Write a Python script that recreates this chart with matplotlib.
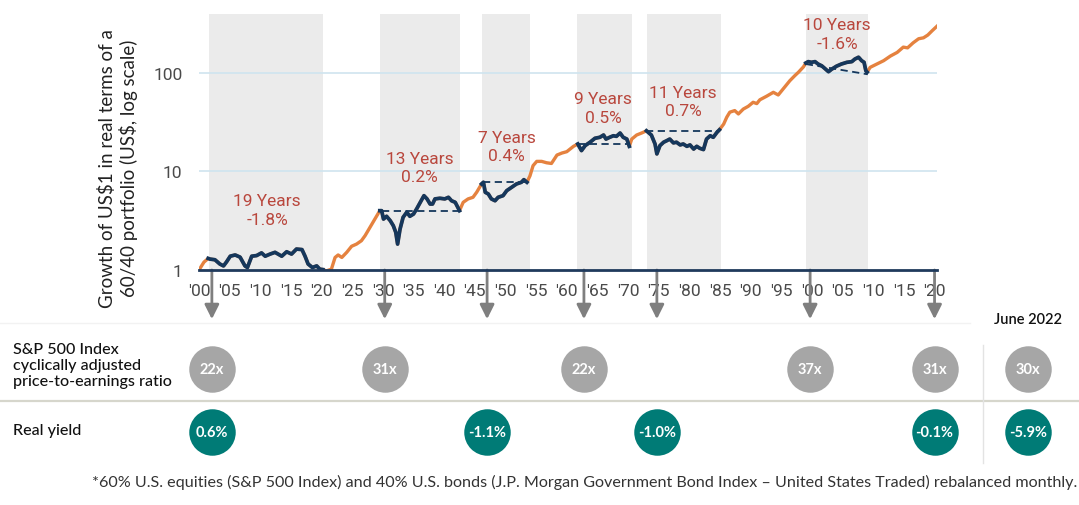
import matplotlib
matplotlib.use("Agg")
import matplotlib.pyplot as plt
from matplotlib.transforms import blended_transform_factory

# Growth of US$1 (real) in a 60/40 portfolio
years = [1900.0, 1900.8, 1901.5, 1901.8, 1902.6, 1903.4, 1904.0, 1904.5, 1905.1, 1905.9,
         1906.7, 1907.5, 1907.9, 1908.6, 1909.4, 1910.2, 1910.8, 1911.6, 1912.4, 1912.9,
         1913.5, 1914.3, 1915.1, 1915.9, 1916.8, 1917.3, 1917.8, 1918.5, 1919.2, 1919.7,
         1920.2, 1920.8, 1921.6, 1922.2, 1922.7, 1923.3, 1924.1, 1924.9, 1925.7, 1926.5,
         1927.1, 1927.9, 1928.7, 1929.5, 1929.8, 1930.1, 1930.6, 1931.2, 1931.7, 1932.1,
         1932.4, 1932.8, 1933.3, 1933.9, 1934.4, 1935.0, 1935.5, 1936.1, 1936.7, 1937.2,
         1937.7, 1938.1, 1938.5, 1939.3, 1940.1, 1940.7, 1941.2, 1941.8, 1942.5, 1943.1,
         1943.9, 1944.7, 1945.3, 1946.1, 1946.4, 1946.7, 1947.2, 1947.7, 1948.3, 1948.8,
         1949.6, 1950.2, 1951.0, 1951.8, 1952.6, 1953.0, 1953.5, 1954.0, 1954.5, 1955.1,
         1955.9, 1956.7, 1957.5, 1958.4, 1959.2, 1960.0, 1961.1, 1961.8, 1962.4, 1963.0,
         1963.8, 1964.6, 1965.4, 1966.0, 1966.4, 1967.0, 1967.6, 1968.1, 1968.7, 1969.2,
         1969.8, 1970.2, 1970.6, 1971.4, 1972.2, 1973.0, 1973.8, 1974.4, 1974.7, 1975.2,
         1975.8, 1976.3, 1976.8, 1977.4, 1977.9, 1978.5, 1979.0, 1979.6, 1980.1, 1980.7,
         1981.2, 1981.7, 1982.3, 1982.8, 1983.4, 1983.9, 1984.5, 1984.9, 1985.6, 1986.1,
         1986.6, 1987.4, 1988.0, 1988.8, 1989.6, 1990.4, 1991.0, 1991.5, 1992.6, 1993.7,
         1994.5, 1995.3, 1996.4, 1997.2, 1997.8, 1998.6, 1999.0, 1999.4, 1999.9, 2000.5,
         2001.0, 2001.6, 2002.1, 2002.7, 2003.2, 2004.0, 2004.8, 2005.7, 2006.5, 2007.0,
         2007.6, 2008.1, 2008.5, 2008.8, 2009.0, 2009.5, 2010.6, 2011.7, 2012.8, 2013.9,
         2014.9, 2015.6, 2016.5, 2017.4, 2018.2, 2018.9, 2019.6, 2020.4]
values = [1.00, 1.20, 1.31, 1.29, 1.27, 1.15, 1.10, 1.21, 1.38, 1.42,
          1.35, 1.10, 1.06, 1.38, 1.40, 1.49, 1.38, 1.45, 1.51, 1.45,
          1.38, 1.53, 1.45, 1.63, 1.61, 1.38, 1.15, 1.06, 1.10, 1.02,
          1.01, 0.98, 1.02, 1.34, 1.42, 1.34, 1.51, 1.74, 1.83, 1.98,
          2.23, 2.71, 3.28, 3.99, 3.99, 3.28, 3.50, 3.16, 2.81, 2.41,
          1.83, 2.60, 3.42, 3.85, 3.50, 3.69, 4.15, 4.85, 5.66, 5.25,
          4.66, 4.66, 5.25, 5.33, 5.25, 5.45, 5.03, 4.85, 3.99, 4.85,
          5.25, 5.45, 6.13, 7.44, 7.74, 6.13, 5.89, 5.25, 5.03, 5.45,
          5.66, 6.36, 6.88, 7.44, 7.74, 8.22, 7.74, 9.00, 11.4, 12.6,
          12.6, 12.2, 12.0, 14.6, 15.3, 15.8, 17.9, 18.9, 16.2, 18.2,
          19.7, 21.6, 22.1, 23.3, 21.2, 22.1, 22.9, 22.6, 24.4, 22.1,
          21.2, 17.9, 21.2, 23.3, 24.4, 25.7, 23.3, 18.9, 15.0, 18.2,
          19.7, 20.4, 21.2, 19.4, 19.7, 18.5, 18.9, 17.9, 18.5, 16.8,
          17.9, 17.1, 16.6, 21.2, 22.9, 22.1, 24.8, 26.3, 30.1, 35.3,
          39.7, 41.2, 38.1, 42.7, 45.5, 50.0, 48.5, 53.0, 57.6, 63.1,
          59.3, 68.3, 82.8, 93.0, 100.8, 114, 125, 129, 127, 129,
          122, 117, 110, 102, 108, 116, 122, 127, 129, 137,
          143, 132, 127, 104, 101, 113, 122, 132, 147, 160,
          181, 178, 200, 220, 225, 240, 265, 295]

# shaded periods and the parts of the line drawn in navy
shade_start = [1901.7, 1929.6, 1946.2, 1961.7, 1973.1, 1999.0]
shade_end = [1920.2, 1942.6, 1954.0, 1970.6, 1985.1, 2009.1]
dd_start = [1901.5, 1929.5, 1946.1, 1961.8, 1973.0, 1999.0]
dd_end = [1920.2, 1942.5, 1953.5, 1970.2, 1984.9, 2009.0]
dd_labels = ["19 Years\n-1.8%", "13 Years\n0.2%", "7 Years\n0.4%",
             "9 Years\n0.5%", "11 Years\n0.7%", "10 Years\n-1.6%"]
label_x = [1911.1, 1936.0, 1950.2, 1965.9, 1979.0, 2004.1]
label_y = [4.05, 10.9, 17.8, 43.8, 51.0, 246]

# dashed reference lines
dash_x0 = [1929.8, 1946.4, 1961.8, 1973.0, 1999.0]
dash_x1 = [1942.5, 1953.5, 1970.2, 1984.9, 2009.1]
dash_y0 = [3.99, 7.74, 18.9, 25.7, 122]
dash_y1 = [3.99, 7.74, 18.9, 25.7, 96]

# valuation table below the chart
event_years = [1902.1, 1930.3, 1947.0, 1962.8, 1974.7, 1999.7, 2020.0]
cape = ["22x", "31x", "", "22x", "", "37x", "31x"]
real_yield = ["0.6%", "", "-1.1%", "", "-1.0%", "", "-0.1%"]
june_cape = "30x"
june_yield = "-5.9%"

ORANGE = "#e5823f"
NAVY = "#15375c"
RED = "#b9473d"
GREY_C = "#a6a6a6"
TEAL = "#007b76"
NARROW = ["Liberation Sans Narrow", "Roboto"]
W, H = 1079, 506

fig = plt.figure(figsize=(W / 100, H / 100), dpi=100)
ax = fig.add_axes([199 / W, 235 / H, 738 / W, 256 / H])

for s, e in zip(shade_start, shade_end):
    ax.axvspan(s, e, color="#ebebeb", lw=0, zorder=0)
for lvl in [10, 100]:
    ax.axhline(lvl, color="#cfe4ef", lw=1.2, zorder=1)

ax.plot(years, values, color=ORANGE, lw=2.4, zorder=3, solid_joinstyle="round")
for s, e in zip(dd_start, dd_end):
    xs = [x for x in years if s <= x <= e]
    ys = [v for x, v in zip(years, values) if s <= x <= e]
    ax.plot(xs, ys, color=NAVY, lw=2.7, zorder=4, solid_joinstyle="round")
for x0, x1, y0, y1 in zip(dash_x0, dash_x1, dash_y0, dash_y1):
    ax.plot([x0, x1], [y0, y1], color=NAVY, lw=1.3, ls=(0, (4, 2.5)), zorder=5)

for txt, x, y in zip(dd_labels, label_x, label_y):
    ax.text(x, y, txt, color=RED, ha="center", va="center", fontsize=12.5,
            family=NARROW, linespacing=1.3)

ax.set_yscale("log")
ax.set_ylim(1, 392)
ax.set_xlim(1900, 2020.4)
ax.set_yticks([1, 10, 100])
ax.set_yticklabels(["1", "10", "100"])
ax.minorticks_off()
ticks = list(range(1900, 2021, 5))
ax.set_xticks(ticks)
ax.set_xticklabels(["'%02d" % (t % 100) for t in ticks])
ax.tick_params(axis="both", length=0, labelsize=12.5, labelcolor="#4a4a4a")
ax.tick_params(axis="x", pad=9)
ax.tick_params(axis="y", pad=12)
for lab in ax.get_xticklabels() + ax.get_yticklabels():
    lab.set_family(NARROW)
for side in ["top", "right", "left"]:
    ax.spines[side].set_visible(False)
ax.spines["bottom"].set_color("#1f3a5c")
ax.spines["bottom"].set_linewidth(2)
ax.spines["bottom"].set_zorder(6)

fig.text(118 / W, 1 - 168.5 / H,
         "Growth of US\\$1 in real terms of a\n60/40 portfolio (US\\$, log scale)",
         rotation=90, ha="center", va="center", fontsize=13.5, family="Lato",
         color="#222222", linespacing=1.2, multialignment="center")

# arrows and circles below the axis
blend = blended_transform_factory(ax.transData, ax.transAxes)
for x in event_years:
    ax.annotate("", xy=(x, -0.192), xytext=(x, 0), xycoords=blend, textcoords=blend,
                arrowprops=dict(arrowstyle="-|>,head_length=1.0,head_width=0.5",
                                color="#7f7f7f", lw=2, mutation_scale=8.6,
                                shrinkA=0, shrinkB=0), annotation_clip=False)

CAPE_Y = (271 - 370) / 256
YIELD_Y = (271 - 433) / 256
CURRENT_X = 2035.2


def bubble(x, y, txt, col):
    ax.scatter([x], [y], s=1120, color=col, transform=blend, clip_on=False,
               zorder=7, linewidths=0)
    ax.text(x, y, txt, transform=blend, ha="center", va="center", color="white",
            fontsize=10.5, fontweight="bold", family="Lato", zorder=8, clip_on=False)


for x, c, r in zip(event_years, cape, real_yield):
    if c:
        bubble(x, CAPE_Y, c, GREY_C)
    if r:
        bubble(x, YIELD_Y, r, TEAL)
bubble(CURRENT_X, CAPE_Y, june_cape, GREY_C)
bubble(CURRENT_X, YIELD_Y, june_yield, TEAL)
ax.text(CURRENT_X, (271 - 320) / 256, "June 2022", transform=blend, ha="center",
        va="center", fontsize=10.5, family="Lato", fontweight="semibold", color="#111111",
        clip_on=False)
ax.set_xlim(1900, 2020.4)

# table lines and labels
fig.add_artist(plt.Line2D([0, 970 / W], [1 - 324 / H, 1 - 324 / H], color="#f2f2f2", lw=1))
fig.add_artist(plt.Line2D([0, 1], [1 - 401.5 / H, 1 - 401.5 / H], color="#d6d6cc", lw=1.6))
fig.add_artist(plt.Line2D([982.5 / W, 982.5 / W], [1 - 346 / H, 1 - 464 / H],
                          color="#e3e3e3", lw=1))
fig.text(13 / W, 1 - 366 / H, "S&P 500 Index\ncyclically adjusted\nprice-to-earnings ratio",
         ha="left", va="center", fontsize=11.6, family="Lato", fontweight="medium",
         color="#111111", linespacing=1.2)
fig.text(13 / W, 1 - 431 / H, "Real yield", ha="left", va="center", fontsize=11.6,
         family="Lato", fontweight="medium", color="#111111")
fig.text(1077 / W, 1 - 482 / H,
         "*60% U.S. equities (S&P 500 Index) and 40% U.S. bonds (J.P. Morgan Government "
         "Bond Index \u2013 United States Traded) rebalanced monthly.",
         ha="right", va="center", fontsize=11.6, family="Lato", color="#333333")

fig.savefig("out.png", dpi=100)
